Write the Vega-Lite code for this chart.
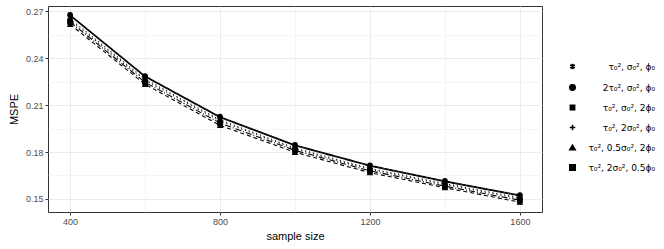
{
  "$schema": "https://vega.github.io/schema/vega-lite/v6.json",
  "width": 494,
  "height": 206,
  "padding": {"left": 8, "top": 6, "right": 5, "bottom": 5},
  "background": "white",
  "config": {
    "font": "Liberation Sans",
    "view": {"stroke": "#333333", "strokeWidth": 1},
    "axis": {
      "labelFont": "Liberation Sans",
      "titleFont": "Liberation Sans",
      "labelFontSize": 9,
      "labelColor": "#4d4d4d",
      "titleFontSize": 11,
      "titleFontWeight": "normal",
      "titleColor": "black",
      "tickColor": "#333333",
      "tickSize": 3,
      "domain": false
    },
    "legend": {"labelFont": "DejaVu Sans", "labelFontSize": 9, "labelColor": "black", "labelLimit": 200}
  },
  "data": {
    "values": [
      {"n": 400, "series": "τ₀², σ₀², ϕ₀", "mspe": 0.265}, {"n": 600, "series": "τ₀², σ₀², ϕ₀", "mspe": 0.2265}, {"n": 800, "series": "τ₀², σ₀², ϕ₀", "mspe": 0.2005}, {"n": 1000, "series": "τ₀², σ₀², ϕ₀", "mspe": 0.1825}, {"n": 1200, "series": "τ₀², σ₀², ϕ₀", "mspe": 0.1695}, {"n": 1400, "series": "τ₀², σ₀², ϕ₀", "mspe": 0.1598}, {"n": 1600, "series": "τ₀², σ₀², ϕ₀", "mspe": 0.1508},
      {"n": 400, "series": "2τ₀², σ₀², ϕ₀", "mspe": 0.2675}, {"n": 600, "series": "2τ₀², σ₀², ϕ₀", "mspe": 0.2285}, {"n": 800, "series": "2τ₀², σ₀², ϕ₀", "mspe": 0.2025}, {"n": 1000, "series": "2τ₀², σ₀², ϕ₀", "mspe": 0.1845}, {"n": 1200, "series": "2τ₀², σ₀², ϕ₀", "mspe": 0.1715}, {"n": 1400, "series": "2τ₀², σ₀², ϕ₀", "mspe": 0.1615}, {"n": 1600, "series": "2τ₀², σ₀², ϕ₀", "mspe": 0.1525},
      {"n": 400, "series": "τ₀², σ₀², 2ϕ₀", "mspe": 0.264}, {"n": 600, "series": "τ₀², σ₀², 2ϕ₀", "mspe": 0.2258}, {"n": 800, "series": "τ₀², σ₀², 2ϕ₀", "mspe": 0.1998}, {"n": 1000, "series": "τ₀², σ₀², 2ϕ₀", "mspe": 0.182}, {"n": 1200, "series": "τ₀², σ₀², 2ϕ₀", "mspe": 0.169}, {"n": 1400, "series": "τ₀², σ₀², 2ϕ₀", "mspe": 0.1592}, {"n": 1600, "series": "τ₀², σ₀², 2ϕ₀", "mspe": 0.1502},
      {"n": 400, "series": "τ₀², 2σ₀², ϕ₀", "mspe": 0.267}, {"n": 600, "series": "τ₀², 2σ₀², ϕ₀", "mspe": 0.228}, {"n": 800, "series": "τ₀², 2σ₀², ϕ₀", "mspe": 0.202}, {"n": 1000, "series": "τ₀², 2σ₀², ϕ₀", "mspe": 0.184}, {"n": 1200, "series": "τ₀², 2σ₀², ϕ₀", "mspe": 0.171}, {"n": 1400, "series": "τ₀², 2σ₀², ϕ₀", "mspe": 0.161}, {"n": 1600, "series": "τ₀², 2σ₀², ϕ₀", "mspe": 0.152},
      {"n": 400, "series": "τ₀², 0.5σ₀², 2ϕ₀", "mspe": 0.2615}, {"n": 600, "series": "τ₀², 0.5σ₀², 2ϕ₀", "mspe": 0.2232}, {"n": 800, "series": "τ₀², 0.5σ₀², 2ϕ₀", "mspe": 0.197}, {"n": 1000, "series": "τ₀², 0.5σ₀², 2ϕ₀", "mspe": 0.1798}, {"n": 1200, "series": "τ₀², 0.5σ₀², 2ϕ₀", "mspe": 0.1668}, {"n": 1400, "series": "τ₀², 0.5σ₀², 2ϕ₀", "mspe": 0.1572}, {"n": 1600, "series": "τ₀², 0.5σ₀², 2ϕ₀", "mspe": 0.148},
      {"n": 400, "series": "τ₀², 2σ₀², 0.5ϕ₀", "mspe": 0.263}, {"n": 600, "series": "τ₀², 2σ₀², 0.5ϕ₀", "mspe": 0.2245}, {"n": 800, "series": "τ₀², 2σ₀², 0.5ϕ₀", "mspe": 0.1985}, {"n": 1000, "series": "τ₀², 2σ₀², 0.5ϕ₀", "mspe": 0.181}, {"n": 1200, "series": "τ₀², 2σ₀², 0.5ϕ₀", "mspe": 0.168}, {"n": 1400, "series": "τ₀², 2σ₀², 0.5ϕ₀", "mspe": 0.1582}, {"n": 1600, "series": "τ₀², 2σ₀², 0.5ϕ₀", "mspe": 0.1492}
    ]
  },
  "encoding": {
    "x": {
      "field": "n", "type": "quantitative", "title": "sample size",
      "scale": {"domain": [341, 1659], "nice": false, "zero": false},
      "axis": {
        "values": [400, 600, 800, 1000, 1200, 1400, 1600],
        "format": "d",
        "labelExpr": "datum.value % 400 == 0 ? datum.label : ''",
        "tickOpacity": {"condition": {"test": "datum.value % 400 == 0", "value": 1}, "value": 0},
        "gridColor": "#ebebeb",
        "gridWidth": {"condition": {"test": "datum.value % 400 == 0", "value": 1}, "value": 0.5},
        "titlePadding": 4
      }
    },
    "y": {
      "field": "mspe", "type": "quantitative", "title": "MSPE",
      "scale": {"domain": [0.1417, 0.2732], "nice": false, "zero": false},
      "axis": {
        "values": [0.15, 0.165, 0.18, 0.195, 0.21, 0.225, 0.24, 0.255, 0.27],
        "labelExpr": "round(datum.value*1000) % 30 == 0 ? format(datum.value, '.2f') : ''",
        "tickOpacity": {"condition": {"test": "round(datum.value*1000) % 30 == 0", "value": 1}, "value": 0},
        "gridColor": "#ebebeb",
        "gridWidth": {"condition": {"test": "round(datum.value*1000) % 30 == 0", "value": 1}, "value": 0.5},
        "titlePadding": 6
      }
    }
  },
  "layer": [
    {
      "mark": {"type": "line", "color": "black", "strokeWidth": 1.1},
      "encoding": {
        "detail": {"field": "series"},
        "strokeDash": {
          "field": "series", "type": "nominal",
          "scale": {"domain": ["2τ₀², σ₀², ϕ₀", "τ₀², σ₀², ϕ₀", "τ₀², σ₀², 2ϕ₀", "τ₀², 2σ₀², ϕ₀", "τ₀², 0.5σ₀², 2ϕ₀", "τ₀², 2σ₀², 0.5ϕ₀"], "range": [[1, 0], [1, 3], [1, 3], [1, 0], [4, 3], [6, 2, 1, 2]]},
          "legend": null
        }
      }
    },
    {
      "mark": {"type": "point", "stroke": "black", "strokeWidth": 1.1, "opacity": 1, "size": 22},
      "encoding": {
        "shape": {
          "field": "series", "type": "nominal", "title": null,
          "scale": {"domain": ["τ₀², σ₀², ϕ₀", "2τ₀², σ₀², ϕ₀", "τ₀², σ₀², 2ϕ₀", "τ₀², 2σ₀², ϕ₀", "τ₀², 0.5σ₀², 2ϕ₀", "τ₀², 2σ₀², 0.5ϕ₀"], "range": [
            "M0,-1L0,1M-0.87,-0.5L0.87,0.5M-0.87,0.5L0.87,-0.5M-0.7,-0.7L0.7,0.7M-0.7,0.7L0.7,-0.7",
            "circle",
            "M-0.8,-0.8H0.8V0.8H-0.8ZM-0.8,-0.8L0.8,0.8M-0.8,0.8L0.8,-0.8",
            "M-1,0H1M0,-1V1",
            "triangle-up",
            "square"
          ]},
          "legend": {
            "orient": "none", "legendX": 520, "legendY": 56,
            "rowPadding": 8, "symbolSize": 30, "labelOffset": 78, "labelAlign": "right",
            "encode": {"symbols": {"update": {"stroke": {"value": "black"}, "strokeWidth": {"value": 1.1}}}}
          }
        },
        "fill": {
          "field": "series", "type": "nominal", "title": null,
          "scale": {"domain": ["τ₀², σ₀², ϕ₀", "2τ₀², σ₀², ϕ₀", "τ₀², σ₀², 2ϕ₀", "τ₀², 2σ₀², ϕ₀", "τ₀², 0.5σ₀², 2ϕ₀", "τ₀², 2σ₀², 0.5ϕ₀"], "range": ["transparent", "black", "transparent", "transparent", "black", "black"]},
          "legend": {
            "orient": "none", "legendX": 520, "legendY": 56,
            "rowPadding": 8, "symbolSize": 30, "labelOffset": 78, "labelAlign": "right",
            "encode": {"symbols": {"update": {"stroke": {"value": "black"}, "strokeWidth": {"value": 1.1}}}}
          }
        }
      }
    }
  ]
}
